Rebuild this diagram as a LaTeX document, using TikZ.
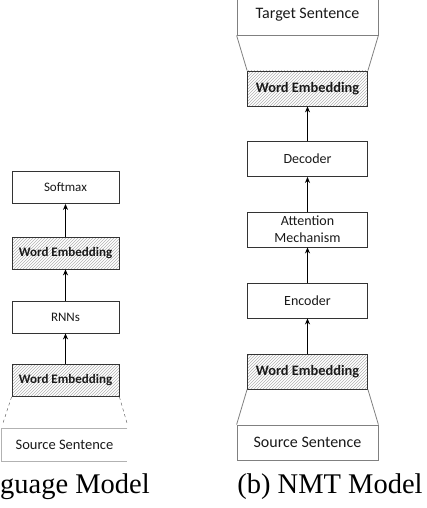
\documentclass[tikz,border=0pt]{standalone}
\usepackage{fontspec}
\setmainfont{Liberation Serif}
\newfontfamily\boxfont{Carlito}
\usetikzlibrary{patterns,arrows.meta}

\tikzset{
	layer/.style={draw=black!80, line width=0.8pt, minimum width=120pt, minimum height=35pt, inner sep=0pt, text=black!90, font=\boxfont\fontsize{14}{16}\selectfont, align=center},
	smalllayer/.style={layer, minimum width=107pt, minimum height=32pt, font=\boxfont\fontsize{13}{15}\selectfont},
	embed/.style={pattern=north east lines, pattern color=black!30},
	sentence/.style={layer, draw=black!50, minimum width=141pt, font=\boxfont\fontsize{16}{18}\selectfont},
	flow/.style={-{Stealth[length=6pt,width=5pt]}, line width=1.2pt},
	caption/.style={font=\fontsize{28.5}{30}\selectfont, inner sep=0pt}
}

\begin{document}
\begin{tikzpicture}[x=1pt, y=-1pt] % pixel-like coordinates, y pointing down
	\useasboundingbox (0,0) rectangle (427,508);
	
	% (a) language model, cut on the left
	\node[smalllayer] (lsoft) at (65.5,187.5) {Softmax};
	\node[smalllayer, embed, font=\boxfont\bfseries\fontsize{13}{15}\selectfont] (lemb2) at (65.5,253) {Word Embedding};
	\node[smalllayer] (lrnn) at (65.5,317) {RNNs};
	\node[smalllayer, embed, font=\boxfont\bfseries\fontsize{13}{15}\selectfont] (lemb1) at (65.5,380.5) {Word Embedding};
	\node[smalllayer, draw=none, minimum width=125pt, font=\boxfont\fontsize{14.5}{16}\selectfont] (lsrc) at (64.5,445) {Source Sentence};
	\draw[black!30, line width=0.8pt] (lsrc.north east) -- (lsrc.north west) -- (lsrc.south west) -- (lsrc.south east);
	
	\coordinate (lcutw) at (3,423);
	\coordinate (lcute) at (127,423);
	\draw[dashed, black!70] (lemb1.south west) -- (lcutw);
	\draw[dashed, black!70] (lemb1.south east) -- (lcute);
	
	\draw[flow] (lemb1) -- (lrnn);
	\draw[flow] (lrnn) -- (lemb2);
	\draw[flow] (lemb2) -- (lsoft);
	
	\node[caption, anchor=west] (lcap) at (0,487) {guage Model};
	
	% (b) NMT model
	\node[sentence, minimum height=40pt] (rtgt) at (307.5,15) {Target Sentence};
	\node[layer, embed, font=\boxfont\bfseries\fontsize{14.4}{16}\selectfont] (remb2) at (307.5,88.5) {Word Embedding};
	\node[layer] (rdec) at (307.5,159) {Decoder};
	\node[layer, font=\boxfont\fontsize{14}{17}\selectfont] (ratt) at (307.5,229.5) {Attention\\Mechanism};
	\node[layer] (renc) at (307.5,300.5) {Encoder};
	\node[layer, embed, font=\boxfont\bfseries\fontsize{14.4}{16}\selectfont] (remb1) at (307.5,371.5) {Word Embedding};
	\node[sentence] (rsrc) at (307.5,442.5) {Source Sentence};
	
	\draw[black!50, line width=0.8pt] (remb2.north west) -- (rtgt.south west);
	\draw[black!50, line width=0.8pt] (remb2.north east) -- (rtgt.south east);
	\draw[black!50, line width=0.8pt] (remb1.south west) -- (rsrc.north west);
	\draw[black!50, line width=0.8pt] (remb1.south east) -- (rsrc.north east);
	
	\draw[flow] (remb1) -- (renc);
	\draw[flow] (renc) -- (ratt);
	\draw[flow] (ratt) -- (rdec);
	\draw[flow] (rdec) -- (remb2);
	
	\node[caption] (rcap) at (330,487) {(b) NMT Model};
\end{tikzpicture}
\end{document}
